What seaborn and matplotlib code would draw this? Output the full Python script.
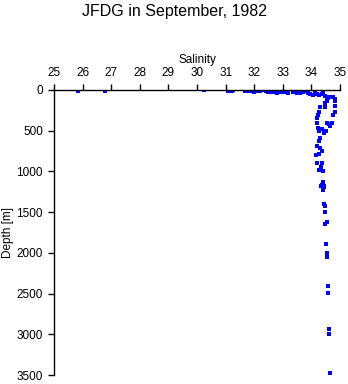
import numpy as np
import pandas as pd
import matplotlib
matplotlib.use('Agg')
import matplotlib.pyplot as plt
import seaborn as sns

# salinity / depth pairs
salinity = [
    25.84, 26.77, 30.25, 31.09, 31.21, 31.27, 31.67, 31.79, 31.90, 31.98,
    32.06, 32.20, 32.30, 32.41, 32.49, 32.57, 32.65, 32.78, 32.90, 33.04,
    33.19, 33.37, 33.43, 33.50, 33.60, 33.72, 33.81, 33.89, 33.95, 34.07,
    34.13, 34.19, 34.28, 34.36, 34.42, 34.48, 34.53, 34.59, 34.65, 34.71,
    34.77, 34.82, 34.53, 34.48, 34.82, 34.82, 34.82, 34.77, 34.30, 34.48,
    34.28, 34.24, 34.20, 34.21, 34.53, 34.63, 34.71, 34.65, 34.24, 34.28,
    34.36, 34.51, 34.45, 34.30, 34.28, 34.20, 34.30, 34.36, 34.28, 34.16,
    34.19, 34.36, 34.34, 34.28, 34.40, 34.40, 34.36, 34.45, 34.40, 34.35,
    34.45, 34.42, 34.44, 34.48, 34.48, 34.53, 34.48, 34.52, 34.56, 34.56,
    34.58, 34.58, 34.62, 34.62, 34.64,
]
depth = [
    8, 8, 5, 10, 10, 5, 10, 10, 15, 30,
    15, 10, 5, 15, 25, 30, 20, 40, 20, 25,
    35, 20, 30, 35, 35, 20, 15, 35, 45, 60,
    10, 45, 60, 50, 20, 70, 80, 100, 80, 90,
    80, 110, 140, 160, 140, 200, 265, 305, 210, 210,
    265, 305, 345, 400, 400, 415, 410, 440, 465, 505,
    485, 505, 525, 590, 630, 690, 710, 750, 790, 800,
    900, 900, 940, 980, 995, 1130, 1170, 1185, 1215, 1185,
    1190, 1230, 1402, 1420, 1500, 1623, 1648, 1890, 2004, 2050,
    2406, 2496, 2935, 3000, 3480,
]

df = pd.DataFrame({'Salinity': salinity, 'Depth': depth})

sns.set_style('white')
plt.rcParams['font.family'] = ['Liberation Sans', 'DejaVu Sans']
plt.rcParams['text.color'] = 'black'
plt.rcParams['axes.labelcolor'] = 'black'
plt.rcParams['xtick.color'] = 'black'
plt.rcParams['ytick.color'] = 'black'

fig = plt.figure(figsize=(3.48, 3.84), dpi=100)
ax = fig.add_axes([54 / 348, 1 - 375 / 384, 286 / 348, 285 / 384])

sns.scatterplot(data=df, x='Salinity', y='Depth', ax=ax, marker='s', s=7,
                color='#0000ff', linewidth=0)

ax.set_xlim(25, 35)
ax.set_ylim(3500, 0)
ax.set_xticks(range(25, 36))
ax.set_yticks(range(0, 3501, 500))
ax.xaxis.tick_top()
ax.xaxis.set_label_position('top')
ax.set_xlabel('Salinity', fontsize=8.5, labelpad=3)
ax.set_ylabel('Depth [m]', fontsize=8.5, labelpad=2)
ax.tick_params(axis='both', labelsize=8.5, length=4, width=1,
               direction='out', pad=4)
ax.tick_params(axis='x', top=True, bottom=False)
ax.tick_params(axis='y', left=True)

for side in ['right', 'bottom']:
    ax.spines[side].set_visible(False)
for side in ['top', 'left']:
    ax.spines[side].set_color('black')
    ax.spines[side].set_linewidth(1)

fig.suptitle('JFDG in September, 1982', fontsize=11.5, y=0.99)

fig.savefig('out.png', dpi=100)
